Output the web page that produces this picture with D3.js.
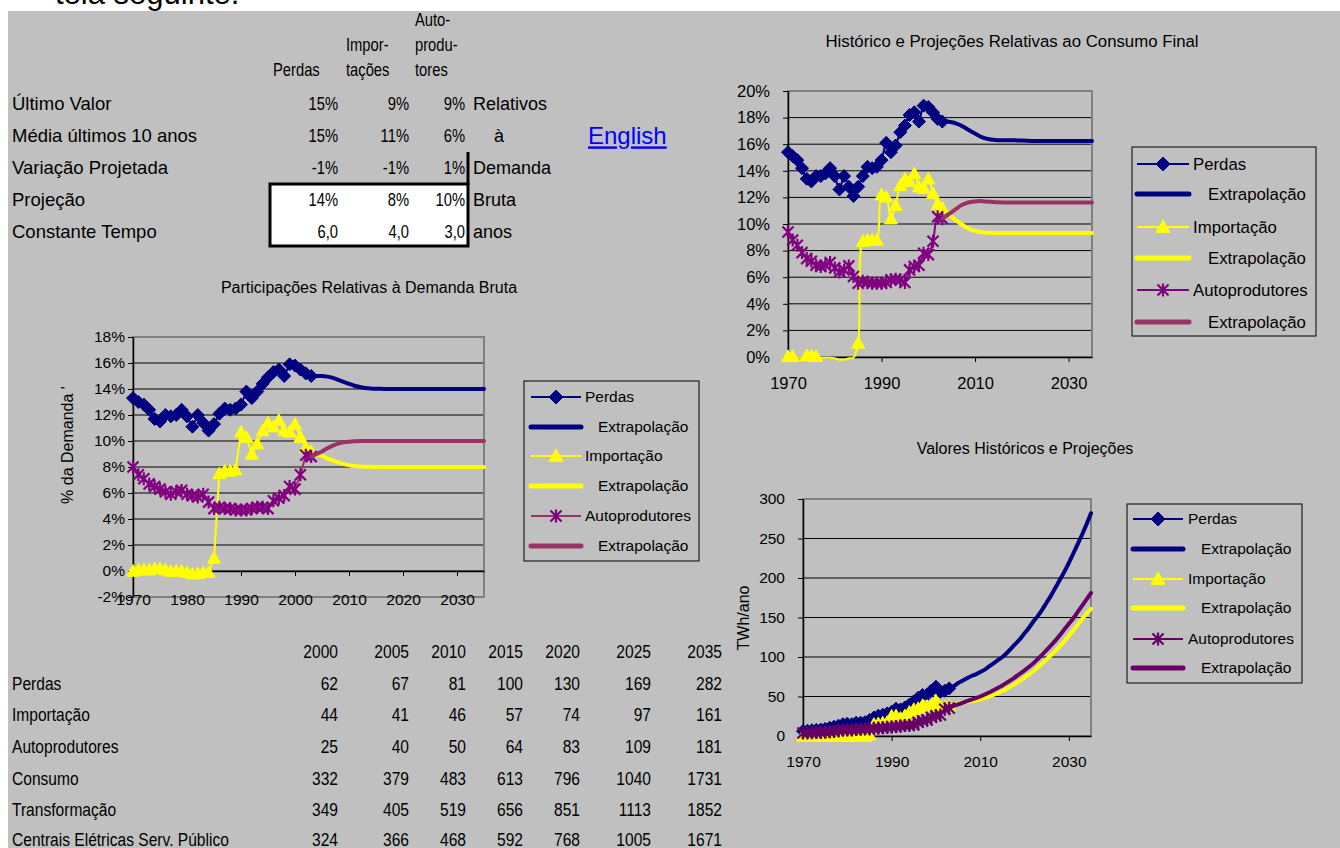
<!DOCTYPE html>
<html><head><meta charset="utf-8">
<script src="https://cdn.jsdelivr.net/npm/d3@7"></script>
<style>body{margin:0;background:#fff;overflow:hidden}</style>
</head><body><svg id="c" width="1340" height="848"></svg>
<script>
// ---------------- DATA ----------------
const histYears = [1970,1971,1972,1973,1974,1975,1976,1977,1978,1979,1980,1981,1982,1983,1984,1985,1986,1987,1988,1989,1990,1991,1992,1993,1994,1995,1996,1997,1998,1999,2000,2001,2002,2003];
const extYears = [2003,2004,2005,2006,2007,2008,2009,2010,2011,2012,2013,2014,2015,2016,2017,2018,2019,2020,2021,2022,2023,2024,2025,2026,2027,2028,2029,2030,2031,2032,2033,2034,2035];

// Participações relativas à demanda bruta (%)
const perdasBruta = [13.3,13.0,12.8,12.4,11.7,11.5,12.0,11.9,12.0,12.4,11.9,11.1,12.0,11.4,10.8,11.3,12.1,12.5,12.4,12.5,12.8,13.8,13.3,13.8,14.4,14.9,15.3,15.5,15.0,15.9,15.8,15.5,15.2,15.0];
const importBruta = [0.0,0.1,0.1,0.1,0.2,0.2,0.1,0.0,0.0,0.0,-0.1,-0.2,-0.2,-0.1,-0.1,1.0,7.5,7.7,7.7,7.8,10.7,10.3,9.0,9.8,10.8,11.4,11.1,11.6,10.8,10.7,11.3,10.3,9.5,9.2];
const autoBruta = [8.0,7.4,7.1,6.7,6.5,6.3,6.1,5.9,6.1,6.2,5.9,5.8,5.7,5.9,5.3,4.8,4.9,4.8,4.8,4.7,4.7,4.7,4.8,4.9,4.9,4.8,5.4,5.6,5.8,6.5,6.3,7.4,8.9,8.8];
const perdasBrutaExt = [15.0,15.0,15.0,14.95,14.85,14.7,14.55,14.4,14.25,14.15,14.08,14.04,14.02,14.01,14.0,14.0,14.0,14.0,14.0,14.0,14.0,14.0,14.0,14.0,14.0,14.0,14.0,14.0,14.0,14.0,14.0,14.0,14.0];
const importBrutaExt = [9.2,9.0,8.85,8.65,8.5,8.35,8.22,8.13,8.07,8.04,8.02,8.01,8.0,8.0,8.0,8.0,8.0,8.0,8.0,8.0,8.0,8.0,8.0,8.0,8.0,8.0,8.0,8.0,8.0,8.0,8.0,8.0,8.0];
const autoBrutaExt = [8.8,9.0,9.2,9.45,9.65,9.8,9.9,9.95,9.98,10.0,10.0,10.0,10.0,10.0,10.0,10.0,10.0,10.0,10.0,10.0,10.0,10.0,10.0,10.0,10.0,10.0,10.0,10.0,10.0,10.0,10.0,10.0,10.0];

// Relativas ao consumo final (%)
const perdasCons = [15.4,15.1,14.8,14.2,13.4,13.2,13.6,13.6,13.8,14.2,13.6,12.6,13.6,12.8,12.1,12.8,13.6,14.3,14.2,14.3,14.8,16.1,15.4,15.9,16.9,17.4,18.2,18.4,17.7,18.9,18.8,18.4,17.9,17.7];
const importCons = [0.05,0.05,-0.02,-0.02,0.1,0.1,0.05,-0.05,-0.05,-0.05,-0.1,-0.2,-0.2,-0.1,-0.05,1.05,8.7,8.8,8.8,8.8,12.2,12.05,10.4,11.4,12.9,13.4,13.2,13.8,12.8,12.7,13.4,12.3,11.5,11.2];
const autoCons = [9.4,8.8,8.4,7.85,7.4,7.2,6.9,6.8,6.9,7.1,6.7,6.4,6.55,6.85,6.05,5.55,5.7,5.6,5.55,5.55,5.55,5.6,5.8,5.85,5.8,5.6,6.55,6.8,6.9,7.8,7.7,8.7,10.55,10.4];
const perdasConsExt = [17.7,17.7,17.65,17.55,17.4,17.2,17.0,16.8,16.6,16.45,16.37,16.33,16.3,16.3,16.3,16.3,16.28,16.27,16.26,16.25,16.25,16.25,16.25,16.25,16.25,16.25,16.25,16.25,16.25,16.25,16.25,16.25,16.25];
const importConsExt = [11.2,10.85,10.55,10.25,10.0,9.78,9.6,9.48,9.4,9.36,9.34,9.33,9.33,9.33,9.33,9.33,9.33,9.33,9.33,9.33,9.33,9.33,9.33,9.33,9.33,9.33,9.33,9.33,9.33,9.33,9.33,9.33,9.33];
const autoConsExt = [10.4,10.65,10.9,11.15,11.4,11.55,11.65,11.7,11.72,11.7,11.68,11.65,11.63,11.62,11.62,11.62,11.62,11.62,11.62,11.62,11.62,11.62,11.62,11.62,11.62,11.62,11.62,11.62,11.62,11.62,11.62,11.62,11.62];

// Valores históricos e projeções (TWh/ano)
const perdasAbs = [6.2,6.6,7.3,7.8,8.2,9.0,10.5,11.7,13.1,14.9,15.6,14.9,16.9,16.9,17.5,20.2,23.4,25.7,27.0,28.6,30.6,34.5,33.6,36.1,39.7,43.8,48.4,51.9,52.2,57.6,62.4,56.1,57.3,60.2];
const importAbs = [0,0,0,0,0.1,0.1,0,0,0,0,0,0,0,0,0,1.7,15.0,15.8,16.7,17.6,25.3,25.8,22.7,25.9,30.3,33.8,35.1,38.9,37.8,38.7,44.5,37.5,36.8,38.1];
const autoAbs = [3.8,3.9,4.1,4.3,4.5,4.9,5.3,5.8,6.6,7.5,7.7,7.6,8.1,9.0,8.8,8.8,9.8,10.1,10.5,11.1,11.5,12.0,12.6,13.3,13.6,14.1,17.4,19.2,20.4,23.8,25.6,26.5,33.8,35.4];
const perdasAbsExt = [60.2,63,67,70,73,76,78,81,84,88,92,96,100,105,111,117,123,130,137,145,152,160,169,178,188,198,208,219,231,243,255,268,282];
const importAbsExt = [38.1,39.5,41,42,43,44,45,46,48,50,52,54.5,57,60,63,66.5,70,74,78,82,87,92,97,102.5,108,114,120,127,134,141,148,155,161];
const autoAbsExt = [35.4,38,40,42,44,46,48,50,52.5,55,58,61,64,67.5,71,75,79,83,87.5,92,97.5,103,109,115,121,128,135,142,149,157,165,173,181];

// Top parameter table
const paramHeaders = [["Perdas"],["Impor-","tações"],["Auto-","produ-","tores"]];
const paramLabels = ["Último Valor","Média últimos 10 anos","Variação Projetada","Projeção","Constante Tempo"];
const perdasParams = ["15%","15%","-1%","14%","6,0"];
const importParams = ["9%","11%","-1%","8%","4,0"];
const autoParams = ["9%","6%","1%","10%","3,0"];
const sideNotes = ["Relativos","à","Demanda","Bruta","anos"];

// Bottom projection table
const tableYears = ["2000","2005","2010","2015","2020","2025","2035"];
const tableRowLabels = ["Perdas","Importação","Autoprodutores","Consumo","Transformação","Centrais Elétricas Serv. Público"];
const tPerdas = [62,67,81,100,130,169,282];
const tImport = [44,41,46,57,74,97,161];
const tAuto = [25,40,50,64,83,109,181];
const tConsumo = [332,379,483,613,796,1040,1731];
const tTransf = [349,405,519,656,851,1113,1852];
const tCentrais = [324,366,468,592,768,1005,1671];

const legendLabels = ["Perdas","Extrapolação","Importação","Extrapolação","Autoprodutores","Extrapolação"];

// ---------------- DRAWING ----------------
const FONT = "'Liberation Sans', Arial, Helvetica, sans-serif";
const NAVY="#000080", YEL="#FFFF00", PUR="#800080", MAR="#993366", DPUR="#660066";
const svg = d3.select("#c").attr("font-family", FONT);

svg.append("rect").attr("width",1340).attr("height",848).attr("fill","#fff");
svg.append("text").attr("x",55).attr("y",4).attr("font-size",31).attr("fill","#000").text("tela seguinte.");
svg.append("rect").attr("x",8).attr("y",11).attr("width",1332).attr("height",837).attr("fill","#C0C0C0");

function txt(x,y,s,size,anchor){
  return svg.append("text").attr("x",x).attr("y",y).attr("dy","0.35em")
    .attr("font-size",size).attr("text-anchor",anchor||"start").attr("fill","#000").text(s);
}
function ntxt(x,y,s,size,anchor){
  return svg.append("text").attr("transform",`translate(${x},${y}) scale(0.82,1)`).attr("dy","0.35em")
    .attr("font-size",size).attr("text-anchor",anchor||"start").attr("fill","#000").text(s);
}

// --- top parameter table ---
const rowY = [104,136,168,200,232];
svg.append("rect").attr("x",270).attr("y",184).attr("width",198).attr("height",62)
  .attr("fill","#fff").attr("stroke","#000").attr("stroke-width",3);
svg.append("line").attr("x1",468).attr("x2",468).attr("y1",152).attr("y2",185).attr("stroke","#000").attr("stroke-width",3);

const hdrX = [273,346,415];
const hdrYs = {1:[70],2:[45,70],3:[20,45,70]};
paramHeaders.forEach((h,i)=>{ h.forEach((s,j)=> ntxt(hdrX[i], hdrYs[h.length][j], s, 18)); });
paramLabels.forEach((s,i)=> txt(12,rowY[i],s,18.5));
const colRight = [338,409,465];
[perdasParams,importParams,autoParams].forEach((arr,c)=> arr.forEach((s,i)=> ntxt(colRight[c],rowY[i],s,18,"end")));
sideNotes.forEach((s,i)=> txt(s==="à"?494:473,rowY[i],s,18));
txt(588,136,"English",24).attr("fill","#0000FF").attr("text-decoration","underline");

// --- bottom table ---
const colR2 = [338,409,466,523,580,651,722];
const rowY2 = [651,683,714,746,778,809,839];
tableYears.forEach((s,i)=> ntxt(colR2[i],rowY2[0],s,19,"end"));
tableRowLabels.forEach((s,i)=> ntxt(12,rowY2[i+1],s,19));
[tPerdas,tImport,tAuto,tConsumo,tTransf,tCentrais].forEach((arr,r)=> arr.forEach((v,i)=> ntxt(colR2[i],rowY2[r+1],String(v),19,"end")));

// --- markers ---
function markerPath(type,r){
  if(type==="diamond") return `M0,${-r}L${r},0L0,${r}L${-r},0Z`;
  if(type==="triangle") return `M0,${-r}L${r},${r*0.8}L${-r},${r*0.8}Z`;
  return `M${-r*0.85},${-r*0.85}L${r*0.85},${r*0.85}M${-r*0.85},${r*0.85}L${r*0.85},${-r*0.85}M0,${-r}L0,${r}`;
}
function drawMarker(g,type,color,r){
  const p = g.append("path").attr("d",markerPath(type,r));
  if(type==="star") p.attr("fill","none").attr("stroke",color).attr("stroke-width",2.2);
  else p.attr("fill",color).attr("stroke",color).attr("stroke-width",1);
  return p;
}

function drawChart(cfg){
  const g = svg.append("g");
  const x = d3.scaleLinear().domain([1970,2035]).range([cfg.x0,cfg.x1]);
  const y = d3.scaleLinear().domain(cfg.yDomain).range([cfg.y1,cfg.y0]);
  g.selectAll("line.grid").data(cfg.yTicks.filter(v=>v>cfg.yDomain[0])).join("line")
    .attr("x1",cfg.x0).attr("x2",cfg.x1).attr("y1",d=>y(d)).attr("y2",d=>y(d))
    .attr("stroke","#000").attr("stroke-width",1);
  g.append("rect").attr("x",cfg.x0).attr("y",cfg.y0).attr("width",cfg.x1-cfg.x0).attr("height",cfg.y1-cfg.y0)
    .attr("fill","none").attr("stroke","#808080").attr("stroke-width",2);
  const ya = g.append("g").attr("transform",`translate(${cfg.x0},0)`)
    .call(d3.axisLeft(y).tickValues(cfg.yTicks).tickSize(5).tickSizeOuter(0).tickPadding(cfg.yPad).tickFormat(cfg.yFmt));
  ya.attr("font-family",FONT).attr("font-size",cfg.fs);
  ya.select(".domain").attr("stroke","#000").attr("stroke-width",1.5);
  ya.selectAll(".tick line").attr("stroke","#000");
  ya.selectAll("text").attr("fill","#000");
  const ax0 = y(cfg.xAxisAt);
  const xa = g.append("g").attr("transform",`translate(0,${ax0})`)
    .call(d3.axisBottom(x).tickValues(cfg.xTicks).tickSize(5).tickSizeOuter(0).tickFormat(d3.format("d")));
  xa.attr("font-family",FONT).attr("font-size",cfg.fs);
  xa.select(".domain").attr("stroke","#000").attr("stroke-width",1.5);
  xa.selectAll(".tick line").attr("stroke","#000");
  xa.selectAll("text").attr("fill","#000").attr("y",cfg.xLabelY-ax0).attr("dy","0.35em");

  cfg.series.forEach(s=>{
    const pts = s.years.map((yr,i)=>[yr,s.values[i]]);
    const line = d3.line().x(d=>x(d[0])).y(d=>y(d[1])).curve(s.curve||d3.curveLinear);
    g.append("path").attr("d",line(pts)).attr("fill","none").attr("stroke",s.lineColor)
      .attr("stroke-width",s.width).attr("stroke-linejoin","round").attr("stroke-linecap","round");
    if(s.marker){
      pts.filter(d=> d[1]>=cfg.yDomain[0]).forEach(d=>{
        drawMarker(g,s.marker,s.markerColor,s.r).attr("transform",`translate(${x(d[0])},${y(d[1])})`);
      });
    }
  });
  txt(cfg.titleX,cfg.titleY,cfg.title,cfg.titleFs,"middle");
  if(cfg.yTitle){
    svg.append("text").attr("transform",`translate(${cfg.yTitleX},${cfg.yTitleY}) rotate(-90)`)
      .attr("dy","0.35em").attr("text-anchor","middle").attr("font-size",cfg.fs+0.5).attr("fill","#000").text(cfg.yTitle);
  }
  const L = cfg.legend;
  svg.append("rect").attr("x",L.x).attr("y",L.y).attr("width",L.w).attr("height",L.h)
    .attr("fill","none").attr("stroke","#000").attr("stroke-width",1);
  cfg.series.forEach((s,i)=>{
    const ry = L.rows[i];
    const lg = svg.append("g");
    lg.append("line").attr("x1",L.lx0).attr("x2",L.lx1).attr("y1",ry).attr("y2",ry)
      .attr("stroke",s.lineColor).attr("stroke-width",s.marker?2:5).attr("stroke-linecap",s.marker?"butt":"round");
    if(s.marker) drawMarker(lg,s.marker,s.markerColor,s.marker==="star"?6.5:7).attr("transform",`translate(${(L.lx0+L.lx1)/2},${ry})`);
    txt(s.marker?L.tx1:L.tx2, ry, legendLabels[i], L.fs);
  });
}

const cr = d3.curveCatmullRom;
const mx = d3.curveMonotoneX;
// Left chart
drawChart({
  x0:133,x1:484,y0:337,y1:597,yDomain:[-2,18],yTicks:[-2,0,2,4,6,8,10,12,14,16,18],
  yFmt:d=>d+"%",yPad:3,fs:15.5,xAxisAt:0,xTicks:[1970,1980,1990,2000,2010,2020,2030],xLabelY:600,
  title:"Participações Relativas à Demanda Bruta",titleX:369,titleY:287,titleFs:16,
  yTitle:"% da Demanda '",yTitleX:67,yTitleY:445,
  series:[
    {years:histYears,values:perdasBruta,lineColor:NAVY,width:2,marker:"diamond",markerColor:NAVY,r:6.5},
    {years:extYears,values:perdasBrutaExt,lineColor:NAVY,width:4,curve:mx},
    {years:histYears,values:importBruta,lineColor:YEL,width:2,marker:"triangle",markerColor:YEL,r:6.5},
    {years:extYears,values:importBrutaExt,lineColor:YEL,width:4,curve:mx},
    {years:histYears,values:autoBruta,lineColor:MAR,width:2,marker:"star",markerColor:PUR,r:6.5},
    {years:extYears,values:autoBrutaExt,lineColor:MAR,width:4,curve:mx}
  ],
  legend:{x:524,y:381,w:175,h:180,rows:[397,427,456,486,516,546],lx0:531,lx1:581,tx1:585,tx2:598,fs:15.5}
});
// Top-right chart
drawChart({
  x0:788,x1:1092,y0:91,y1:357,yDomain:[0,20],yTicks:[0,2,4,6,8,10,12,14,16,18,20],
  yFmt:d=>d+"%",yPad:13,fs:16.5,xAxisAt:0,xTicks:[1970,1990,2010,2030],xLabelY:383,
  title:"Histórico e Projeções Relativas ao Consumo Final",titleX:1012,titleY:41,titleFs:16.8,
  series:[
    {years:histYears,values:perdasCons,lineColor:NAVY,width:2,marker:"diamond",markerColor:NAVY,r:6.5,curve:cr},
    {years:extYears,values:perdasConsExt,lineColor:NAVY,width:4,curve:mx},
    {years:histYears,values:importCons,lineColor:YEL,width:2,marker:"triangle",markerColor:YEL,r:6.5,curve:cr},
    {years:extYears,values:importConsExt,lineColor:YEL,width:4,curve:mx},
    {years:histYears,values:autoCons,lineColor:PUR,width:2,marker:"star",markerColor:PUR,r:6.5,curve:cr},
    {years:extYears,values:autoConsExt,lineColor:MAR,width:4,curve:mx}
  ],
  legend:{x:1132,y:147,w:184,h:189,rows:[164,194,227,258,290,322],lx0:1137,lx1:1189,tx1:1193,tx2:1208,fs:16.8}
});
// Bottom-right chart
drawChart({
  x0:803,x1:1091,y0:499,y1:736,yDomain:[0,300],yTicks:[0,50,100,150,200,250,300],
  yFmt:d=>String(d),yPad:13,fs:15.5,xAxisAt:0,xTicks:[1970,1990,2010,2030],xLabelY:762,
  title:"Valores Históricos e Projeções",titleX:1025,titleY:448,titleFs:16,
  yTitle:"TWh/ano",yTitleX:743,yTitleY:618,
  series:[
    {years:histYears,values:perdasAbs,lineColor:NAVY,width:2,marker:"diamond",markerColor:NAVY,r:6.5},
    {years:extYears,values:perdasAbsExt,lineColor:NAVY,width:4,curve:mx},
    {years:histYears,values:importAbs,lineColor:YEL,width:2,marker:"triangle",markerColor:YEL,r:6.5},
    {years:extYears,values:importAbsExt,lineColor:YEL,width:4,curve:mx},
    {years:histYears,values:autoAbs,lineColor:DPUR,width:2,marker:"star",markerColor:DPUR,r:6.5},
    {years:extYears,values:autoAbsExt,lineColor:DPUR,width:4,curve:mx}
  ],
  legend:{x:1127,y:504,w:175,h:179,rows:[519,549,579,608,639,668],lx0:1133,lx1:1183,tx1:1188,tx2:1201,fs:15.5}
});
</script></body></html>
